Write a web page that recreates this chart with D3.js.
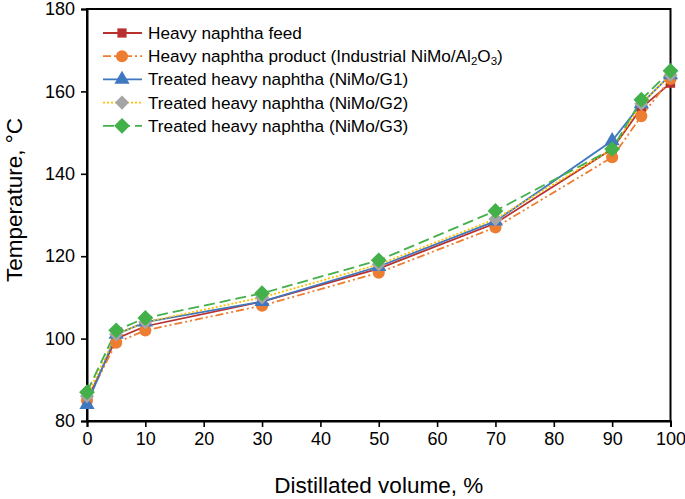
<!DOCTYPE html>
<html><head><meta charset="utf-8">
<script src="https://cdn.jsdelivr.net/npm/d3@7"></script>
<style>body{margin:0;background:#fff}svg{display:block;font-family:"Liberation Sans",Arial,sans-serif}</style>
</head><body><svg id="c" width="685" height="499"></svg>
<script>
const xVals = [0, 5, 10, 30, 50, 70, 90, 95, 100];
const feed = [85, 100, 103, 109, 117, 128, 146, 156, 162];
const productInd = [85, 99, 102, 108, 116, 127, 144, 154, 163];
const treatedG1 = [84, 101, 104, 109, 117.5, 128.5, 148, 157, 164];
const treatedG2 = [86, 101, 104, 110, 118, 129, 146, 157, 164];
const treatedG3 = [87, 102, 105, 111, 119, 131, 146, 158, 165];
const xTicks = [0,10,20,30,40,50,60,70,80,90,100];
const yTicks = [80,100,120,140,160,180];

const series = [
  {name:"Heavy naphtha feed", vals:feed, color:"#b8312f", dash:null, marker:"square", mcol:"#b8312f", size:85},
  {name:"Heavy naphtha product (Industrial NiMo/Al2O3)", vals:productInd, color:"#ed7d31", dash:"8,3,2,3,2,3", marker:"circle", mcol:"#ed7d31", size:115},
  {name:"Treated heavy naphtha (NiMo/G1)", vals:treatedG1, color:"#3f78c0", dash:null, marker:"triangle", mcol:"#3f78c0", size:100},
  {name:"Treated heavy naphtha (NiMo/G2)", vals:treatedG2, color:"#ffc000", dash:"2,2", marker:"diamond", mcol:"#a5a5a5", size:100},
  {name:"Treated heavy naphtha (NiMo/G3)", vals:treatedG3, color:"#43b04a", dash:"11,5", marker:"diamond", mcol:"#43b04a", size:125}
];

const svg = d3.select("#c");
const L=87, R=670.5, T=9, B=421;
const x = d3.scaleLinear().domain([0,100]).range([L,R]);
const y = d3.scaleLinear().domain([80,180]).range([B,T]);

svg.append("rect").attr("x",L).attr("y",T).attr("width",R-L).attr("height",B-T)
  .attr("fill","none").attr("stroke","#000").attr("stroke-width",2);

const xa = svg.append("g").attr("transform",`translate(0,${B})`)
  .call(d3.axisBottom(x).tickValues(xTicks).tickSize(6).tickPadding(5));
const ya = svg.append("g").attr("transform",`translate(${L},0)`)
  .call(d3.axisLeft(y).tickValues(yTicks).tickSize(6).tickPadding(6));
[xa,ya].forEach(a=>{
  a.select(".domain").attr("stroke","#000").attr("stroke-width",2);
  a.selectAll(".tick line").attr("stroke","#000").attr("stroke-width",1.6);
  a.selectAll("text").attr("font-size",18).attr("fill","#000").attr("font-family","Liberation Sans, Arial, sans-serif");
});

svg.append("text").attr("x",(L+R)/2).attr("y",493).attr("text-anchor","middle")
  .attr("font-size",22.5).text("Distillated volume, %");
svg.append("text").attr("transform",`translate(22,200) rotate(-90)`).attr("text-anchor","middle")
  .attr("font-size",22.5).text("Temperature, °C");

const line = d3.line().x(d=>x(d[0])).y(d=>y(d[1]));
const symType = {square:d3.symbolSquare, circle:d3.symbolCircle, triangle:d3.symbolTriangle, diamond:d3.symbolSquare};

function marker(g, s, cx, cy){
  const sym = d3.symbol().type(symType[s.marker]).size(s.size);
  g.append("path").attr("d",sym()).attr("fill",s.mcol)
    .attr("transform",`translate(${cx},${cy})` + (s.marker==="diamond"?" rotate(45)":""));
}

series.forEach(s=>{
  const pts = xVals.map((v,i)=>[v,s.vals[i]]);
  svg.append("path").datum(pts).attr("d",line).attr("fill","none")
    .attr("stroke",s.color).attr("stroke-width",1.8).attr("stroke-dasharray",s.dash);
});
series.forEach(s=>{
  const g = svg.append("g");
  xVals.forEach((v,i)=>marker(g,s,x(v),y(s.vals[i])));
});

const lg = svg.append("g");
series.forEach((s,i)=>{
  const yy = 33 + i*23.2;
  lg.append("line").attr("x1",103).attr("x2",142).attr("y1",yy).attr("y2",yy)
    .attr("stroke",s.color).attr("stroke-width",1.8).attr("stroke-dasharray",s.dash);
  marker(lg,s,122,yy);
  const t = lg.append("text").attr("x",148).attr("y",yy+6).attr("font-size",17.2);
  if(i===1){
    t.append("tspan").text("Heavy naphtha product (Industrial NiMo/Al");
    t.append("tspan").attr("font-size",11.5).attr("dy",3).text("2");
    t.append("tspan").attr("dy",-3).text("O");
    t.append("tspan").attr("font-size",11.5).attr("dy",3).text("3");
    t.append("tspan").attr("dy",-3).text(")");
  } else t.text(s.name);
});
</script></body></html>
